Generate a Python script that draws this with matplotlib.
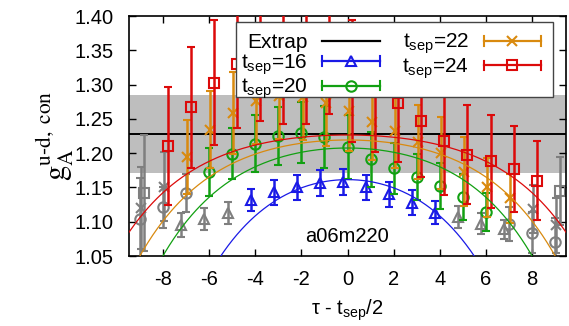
import numpy as np
import matplotlib
matplotlib.use("Agg")
import matplotlib.pyplot as plt
from matplotlib.lines import Line2D
from matplotlib.patches import Rectangle
from matplotlib.legend_handler import HandlerBase

plt.rcParams['font.family'] = ['Liberation Sans', 'DejaVu Sans']

# ---------------- data ----------------
# x = tau - t_sep/2 (integer offsets); fitted-range points in colour, excluded points in grey
k16 = [-4, -3, -2, -1, 0, 1, 2, 3, 4]
v16 = [1.132, 1.143, 1.150, 1.156, 1.158, 1.150, 1.140, 1.128, 1.113]
e16 = [0.016, 0.018, 0.018, 0.019, 0.019, 0.018, 0.018, 0.018, 0.017]
k16g = [-7, -6, -5, 5, 6, 7]
v16g = [1.095, 1.104, 1.113, 1.107, 1.097, 1.089]
e16g = [0.018, 0.016, 0.016, 0.016, 0.015, 0.014]

k20 = [-6, -5, -4, -3, -2, -1, 0, 1, 2, 3, 4, 5, 6]
v20 = [1.173, 1.199, 1.214, 1.225, 1.230, 1.224, 1.209, 1.191, 1.178, 1.165, 1.152, 1.136, 1.114]
e20 = [0.035, 0.037, 0.041, 0.042, 0.044, 0.045, 0.046, 0.040, 0.037, 0.034, 0.033, 0.033, 0.028]
k20g = [-9, -8, -7, 7, 8, 9]
v20g = [1.104, 1.121, 1.142, 1.097, 1.084, 1.071]
e20g = [0.060, 0.030, 0.028, 0.025, 0.030, 0.035]

k22 = [-7, -6, -5, -4, -3, -2, -1, 0, 1, 2, 3, 4, 5, 6, 7]
v22 = [1.195, 1.234, 1.259, 1.276, 1.283, 1.282, 1.273, 1.261, 1.245, 1.233, 1.216, 1.200, 1.173, 1.150, 1.134]
e22 = [0.054, 0.056, 0.060, 0.062, 0.063, 0.063, 0.062, 0.058, 0.055, 0.054, 0.054, 0.053, 0.050, 0.043, 0.036]
k22g = [-9, -8, 8, 9]
v22g = [1.120, 1.151, 1.118, 1.095]
e22g = [0.060, 0.050, 0.035, 0.040]

k24 = [-8, -7, -6, -5, -4, -3, -2, -1, 0, 1, 2, 3, 4, 5, 6, 7, 8]
v24 = [1.210, 1.267, 1.303, 1.330, 1.342, 1.338, 1.335, 1.345, 1.305, 1.290, 1.273, 1.247, 1.217, 1.198, 1.188, 1.177, 1.160]
e24 = [0.086, 0.088, 0.091, 0.093, 0.095, 0.095, 0.092, 0.088, 0.089, 0.089, 0.086, 0.082, 0.078, 0.072, 0.068, 0.063, 0.058]
k24g = [-9, 9]
v24g = [1.142, 1.145]
e24g = [0.085, 0.050]

# extrapolated value and error band
extrap_val = 1.228
extrap_err = 0.057

# two-state fit curves: peak - B*(cosh(dm*x) - 1)
fit_dm = 0.31
fit_peak = {16: 1.1614, 20: 1.2075, 22: 1.2192, 24: 1.2265}
fit_B = {16: 0.0607, 20: 0.0314, 22: 0.0236, 24: 0.0168}

xticks = [-8, -6, -4, -2, 0, 2, 4, 6, 8]
yticks = [1.05, 1.10, 1.15, 1.20, 1.25, 1.30, 1.35, 1.40]
ens_label = "a06m220"

# ---------------- style ----------------
FS = 14.5
FSL = 15
colors = {16: '#1a1ae6', 20: '#12a012', 22: '#d98a0f', 24: '#dc0a0a'}
grey = '#7f7f7f'
markers = {16: '^', 20: 'o', 22: 'x', 24: 's'}
msizes = {16: 7.5, 20: 7.5, 22: 7, 24: 7}
shift = {16: -0.2, 20: 0.0, 22: 0.05, 24: 0.2}

series = {
    16: (k16, v16, e16, k16g, v16g, e16g),
    20: (k20, v20, e20, k20g, v20g, e20g),
    22: (k22, v22, e22, k22g, v22g, e22g),
    24: (k24, v24, e24, k24g, v24g, e24g),
}

fig = plt.figure(figsize=(5.69, 3.26), dpi=100)
ax = fig.add_axes([129/569, 1-256/326, (566-129)/569, (256-16)/326])
ax.set_xlim(-9.47, 9.47)
ax.set_ylim(1.05, 1.40)

# band
ax.axhspan(extrap_val - extrap_err, extrap_val + extrap_err, color='#bebebe', lw=0, zorder=0)
ax.axhline(extrap_val, color='black', lw=1.4, zorder=1)

def eb(x, y, e, c, m, ms, z):
    ax.errorbar(np.asarray(x, float), y, yerr=e, fmt=m, color=c, ms=ms, mfc='none',
                mec=c, mew=1.5, elinewidth=1.8, capsize=3.2, capthick=1.5, zorder=z)

# grey points first
for t in [16, 20, 22, 24]:
    k, v, e, kg, vg, eg = series[t]
    eb(np.array(kg) + shift[t], vg, eg, grey, markers[t], msizes[t], 2)
for i, t in enumerate([16, 20, 22, 24]):
    k, v, e, kg, vg, eg = series[t]
    eb(np.array(k) + shift[t], v, e, colors[t], markers[t], msizes[t], 3 + i)

xs = np.linspace(-9.6, 9.6, 400)
for t in [16, 20, 22, 24]:
    ys = fit_peak[t] - fit_B[t] * (np.cosh(fit_dm * xs) - 1)
    ax.plot(xs, ys, color=colors[t], lw=0.9, zorder=8)

ax.text(0, 1.079, ens_label, ha='center', va='center', fontsize=FS, zorder=9)

ax.set_xticks(xticks)
ax.set_xticklabels([str(v) for v in xticks])
ax.set_yticks(yticks)
ax.set_yticklabels([f"{v:.2f}" for v in yticks])
ax.tick_params(direction='in', length=5, width=1.0, labelsize=FS, top=True, right=True)
ax.tick_params(axis='x', pad=10)
ax.tick_params(axis='y', pad=11)
for s in ax.spines.values():
    s.set_linewidth(1.2)

ax.set_xlabel(r'τ - t$_{\mathregular{sep}}$/2', fontsize=FS, labelpad=6)
ax.set_ylabel(r'$\mathrm{g}_\mathrm{A}^\mathrm{u‐d,\ con}$', fontsize=22, math_fontfamily='stix', labelpad=-1)

# legend with gnuplot-like error-bar samples
class CapHandler(HandlerBase):
    def create_artists(self, legend, orig_handle, xdescent, ydescent, width, height, fontsize, trans):
        c = orig_handle.get_color()
        y = height / 2 - ydescent
        x0, x1 = -xdescent, -xdescent + width
        cap = 3.5
        arts = [Line2D([x0, x1], [y, y], color=c, lw=1.6),
                Line2D([x0, x0], [y - cap, y + cap], color=c, lw=1.5),
                Line2D([x1, x1], [y - cap, y + cap], color=c, lw=1.5),
                Line2D([(x0 + x1) / 2], [y], marker=orig_handle.get_marker(), color=c,
                       ms=orig_handle.get_markersize(), mfc='none', mec=c, mew=1.5, ls='none')]
        for a in arts:
            a.set_transform(trans)
        return arts

# legend box (gnuplot style, drawn separately)
box = Rectangle(((236-129)/437, (256-97)/240), (553-236)/437, (97-22)/240, transform=ax.transAxes,
                facecolor='white', edgecolor='#444444', lw=1.0, zorder=19)
ax.add_patch(box)

h_ext = Line2D([], [], color='black', lw=1.6)
hs = {t: Line2D([], [], color=colors[t], marker=markers[t], ms=msizes[t]) for t in colors}
handles = [h_ext, hs[16], hs[20], hs[22], hs[24]]
labels = ['Extrap', r'$\mathregular{t_{sep}}$=16', r'$\mathregular{t_{sep}}$=20',
          r'$\mathregular{t_{sep}}$=22', r'$\mathregular{t_{sep}}$=24']
hmap = {hs[t]: CapHandler() for t in hs}
leg = ax.legend(handles, labels, handler_map=hmap, ncols=2, markerfirst=False, fontsize=FSL,
                loc='upper right', bbox_to_anchor=((541-129)/437, (256-32)/240), borderaxespad=0,
                handlelength=2.74, handletextpad=0.7, columnspacing=1.1, labelspacing=0.0,
                borderpad=0.0, frameon=False)
leg.set_zorder(20)

fig.savefig('out.png', dpi=100)
